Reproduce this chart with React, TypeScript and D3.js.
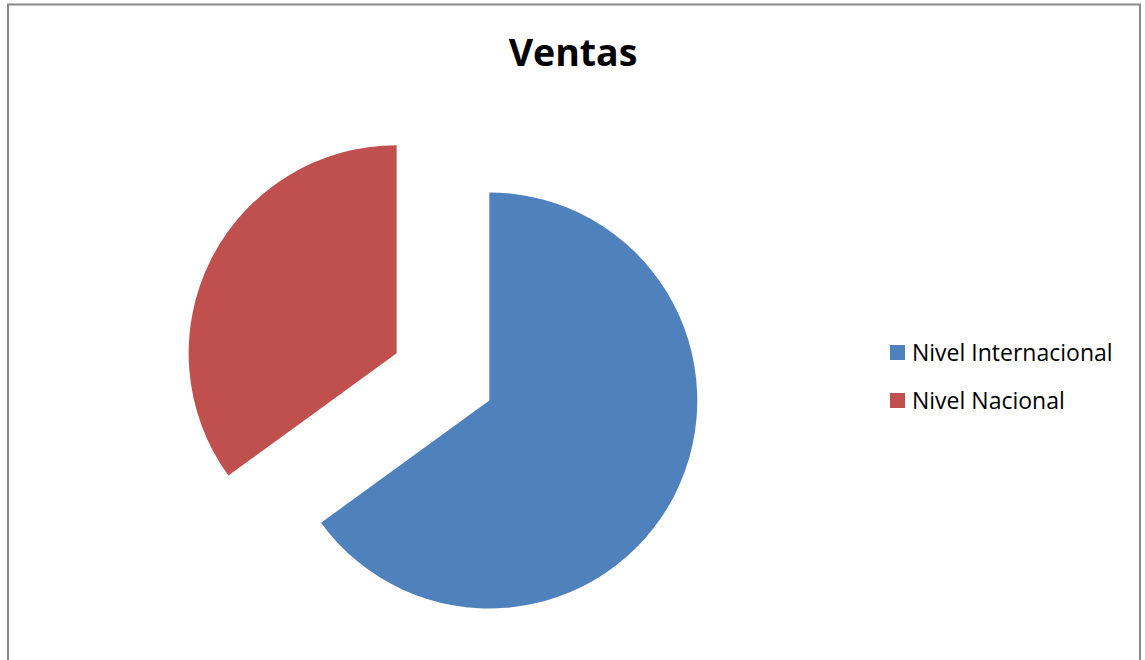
import React, { useRef, useEffect } from 'react';
import * as d3 from 'd3';

const categories = ['Nivel Internacional', 'Nivel Nacional'];
const values = [65, 35];
const colors = ['#4F81BD', '#C0504D'];
const explode = [0, 104];

const W = 1145;
const H = 660;

export default function App() {
    const svgRef = useRef<SVGSVGElement>(null);

    useEffect(() => {
        if (!svgRef.current) return;
        const svg = d3.select(svgRef.current);
        svg.selectAll('*').remove();

        // chart frame
        svg.append('rect')
            .attr('x', 8)
            .attr('y', 4.5)
            .attr('width', 1132)
            .attr('height', H + 20)
            .attr('fill', '#fff')
            .attr('stroke', '#8a8a8a')
            .attr('stroke-width', 2);

        svg.append('text')
            .attr('x', 573)
            .attr('y', 66)
            .attr('text-anchor', 'middle')
            .attr('font-family', '"Open Sans", sans-serif')
            .attr('font-weight', 'bold')
            .attr('font-size', '37.5px')
            .attr('fill', '#000')
            .text('Ventas');

        const cx = 489.3;
        const cy = 400.5;
        const r = 208;

        const pie = d3.pie<number>().sort(null).value(d => d);
        const arc = d3.arc<d3.PieArcDatum<number>>().innerRadius(0).outerRadius(r);
        const arcs = pie(values);

        const g = svg.append('g').attr('transform', `translate(${cx},${cy})`);
        g.selectAll('path')
            .data(arcs)
            .enter()
            .append('path')
            .attr('d', arc)
            .attr('fill', (d, i) => colors[i])
            .attr('transform', (d, i) => {
                const mid = (d.startAngle + d.endAngle) / 2;
                const dx = Math.sin(mid) * explode[i];
                const dy = -Math.cos(mid) * explode[i];
                return `translate(${dx},${dy})`;
            });

        // legend
        const legend = svg.append('g').attr('transform', 'translate(890,345)');
        categories.forEach((c, i) => {
            const row = legend.append('g').attr('transform', `translate(0,${i * 48})`);
            row.append('rect')
                .attr('x', 0)
                .attr('y', 0)
                .attr('width', 15)
                .attr('height', 15)
                .attr('fill', colors[i]);
            row.append('text')
                .attr('x', 22)
                .attr('y', 15.5)
                .attr('font-family', '"Open Sans", sans-serif')
                .attr('font-size', '23px')
                .attr('fill', '#000')
                .text(c);
        });
    }, []);

    return (
        <svg
            ref={svgRef}
            width={W}
            height={H}
            style={{ position: 'absolute', left: 0, top: 0, display: 'block', background: '#fff' }}
        />
    );
}
